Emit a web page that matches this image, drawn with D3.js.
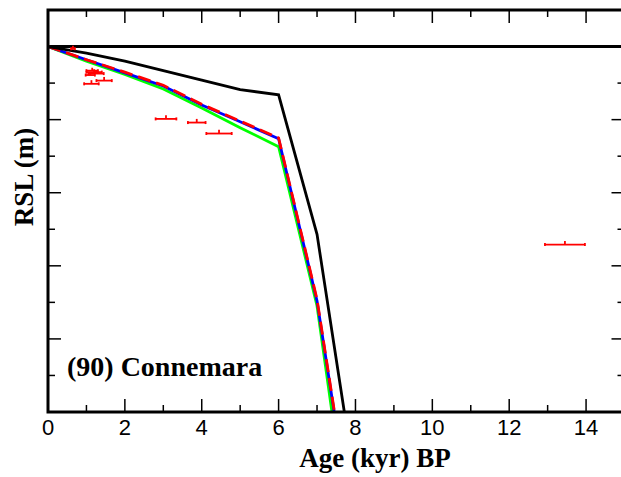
<!DOCTYPE html>
<html><head><meta charset="utf-8">
<script src="https://cdn.jsdelivr.net/npm/d3@7"></script>
<style>body{margin:0;background:#fff}svg{display:block}</style>
</head><body>
<script>
// ---- data ----
const ageTicks = [0, 2, 4, 6, 8, 10, 12, 14];
const modelAge = [0, 1, 2, 3, 4, 5, 6, 7, 8];
const presentRSL = [0, 0];
const presentAge = [0, 15];
const blackRSL = [0, -0.9, -2.0, -3.3, -4.6, -5.9, -6.6, -25.7, -59.9];
const blueRSL  = [0, -1.8, -3.6, -5.4, -8.0, -10.3, -12.6, -34.8, -68.8];
const redRSL   = [0, -1.8, -3.5, -5.3, -7.9, -10.2, -12.5, -34.6, -68.5];
const greenRSL = [0, -2.0, -3.8, -5.8, -8.4, -11.1, -13.7, -35.5, -72.9];
const obsAge    = [0.65, 1.15, 1.2, 1.25, 1.1, 1.13, 1.46, 3.07, 3.87, 4.45, 13.45];
const obsRSL    = [-0.3, -3.3, -3.5, -3.7, -3.9, -5.1, -4.66, -9.9, -10.4, -11.9, -27.1];
const obsAgeErr = [0.05, 0.15, 0.2, 0.2, 0.12, 0.19, 0.2, 0.27, 0.23, 0.33, 0.52];
const obsRSLErr = [0.4, 0.4, 0.4, 0.4, 0.4, 0.5, 0.5, 0.5, 0.5, 0.5, 0.5];
const siteLabel = "(90) Connemara";

// ---- layout ----
const W = 621, H = 477;
const L = 48, R = 624.5, T = 10, B = 412;
const svg = d3.select("body").append("svg").attr("width", W).attr("height", H);
const x = d3.scaleLinear().domain([0, 15]).range([L, R]);
const y = d3.scaleLinear().domain([5, -50]).range([T, B]);

svg.append("clipPath").attr("id", "clip").append("rect")
  .attr("x", L).attr("y", T).attr("width", R - L).attr("height", B - T);
const plot = svg.append("g").attr("clip-path", "url(#clip)");

const line = d3.line().x(d => x(d[0])).y(d => y(d[1]));
function series(ages, vals) { return ages.map((a, i) => [a, vals[i]]); }

// present sea level line
plot.append("path").datum(series(presentAge, presentRSL)).attr("d", line)
  .attr("fill", "none").attr("stroke", "#000").attr("stroke-width", 3);

// model curves
plot.append("path").datum(series(modelAge, greenRSL)).attr("d", line)
  .attr("fill", "none").attr("stroke", "#00ff00").attr("stroke-width", 2.8);
plot.append("path").datum(series(modelAge, blueRSL)).attr("d", line)
  .attr("fill", "none").attr("stroke", "#0000ff").attr("stroke-width", 2.8);
plot.append("path").datum(series(modelAge, redRSL)).attr("d", line)
  .attr("fill", "none").attr("stroke", "#ff0000").attr("stroke-width", 2.8)
  .attr("stroke-dasharray", "13,6");
plot.append("path").datum(series(modelAge, blackRSL)).attr("d", line)
  .attr("fill", "none").attr("stroke", "#000").attr("stroke-width", 2.8);

// observations with error bars
const obs = obsAge.map((a, i) => ({a, r: obsRSL[i], ea: obsAgeErr[i], er: obsRSLErr[i]}));
const og = plot.append("g").attr("stroke", "#ff0000").attr("stroke-width", 1.8).attr("fill", "none");
obs.forEach(d => {
  og.append("line").attr("x1", x(d.a - d.ea)).attr("x2", x(d.a + d.ea)).attr("y1", y(d.r)).attr("y2", y(d.r));
  og.append("line").attr("x1", x(d.a - d.ea)).attr("x2", x(d.a - d.ea)).attr("y1", y(d.r) - 1.5).attr("y2", y(d.r) + 1.5);
  og.append("line").attr("x1", x(d.a + d.ea)).attr("x2", x(d.a + d.ea)).attr("y1", y(d.r) - 1.5).attr("y2", y(d.r) + 1.5);
  og.append("line").attr("x1", x(d.a)).attr("x2", x(d.a)).attr("y1", y(d.r)).attr("y2", y(d.r + d.er));
});

// ---- axes ----
const ax = svg.append("g").attr("stroke", "#000");
const xMinor = d3.range(0, 16, 1);
const yMinor = d3.range(5, -51, -5);
xMinor.forEach(v => {
  const len = v % 2 === 0 ? 13 : 7;
  ax.append("line").attr("x1", x(v)).attr("x2", x(v)).attr("y1", B).attr("y2", B - len).attr("stroke-width", 1.5);
  ax.append("line").attr("x1", x(v)).attr("x2", x(v)).attr("y1", T).attr("y2", T + len).attr("stroke-width", 1.5);
});
yMinor.forEach(v => {
  const len = v % 10 === 0 ? 13 : 7;
  ax.append("line").attr("x1", L).attr("x2", L + len).attr("y1", y(v)).attr("y2", y(v)).attr("stroke-width", 1.5);
  ax.append("line").attr("x1", R).attr("x2", R - len).attr("y1", y(v)).attr("y2", y(v)).attr("stroke-width", 1.5);
});
// frame
svg.append("rect").attr("x", L).attr("y", T).attr("width", R - L).attr("height", B - T)
  .attr("fill", "none").attr("stroke", "#000").attr("stroke-width", 3);

// tick labels
svg.append("g").selectAll("text").data(ageTicks).join("text")
  .attr("x", d => x(d)).attr("y", 435).attr("text-anchor", "middle")
  .attr("font-family", "Liberation Sans, Arial, sans-serif").attr("font-size", 22)
  .text(d => d);

// axis titles
svg.append("text").attr("x", 375).attr("y", 467).attr("text-anchor", "middle")
  .attr("font-family", "Liberation Serif, Times New Roman, serif").attr("font-weight", "bold")
  .attr("font-size", 27).text("Age (kyr) BP");
svg.append("text").attr("transform", "translate(33,177) rotate(-90)").attr("text-anchor", "middle")
  .attr("font-family", "Liberation Serif, Times New Roman, serif").attr("font-weight", "bold")
  .attr("font-size", 27).text("RSL (m)");
svg.append("text").attr("x", 67).attr("y", 376)
  .attr("font-family", "Liberation Serif, Times New Roman, serif").attr("font-weight", "bold")
  .attr("font-size", 28).text(siteLabel);
</script>
</body></html>
